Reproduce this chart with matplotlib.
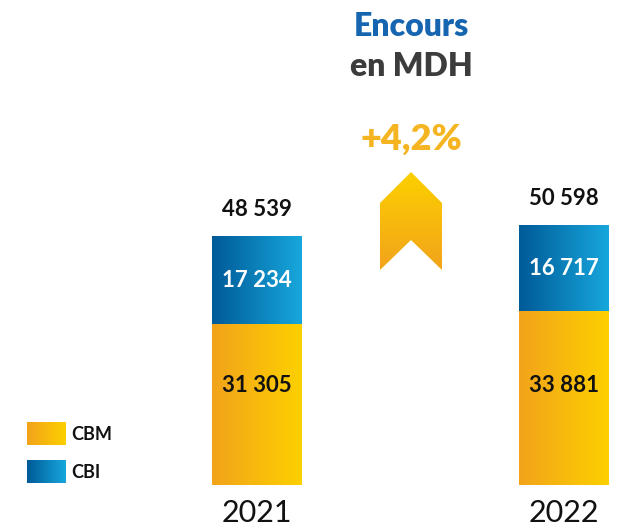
import numpy as np
import matplotlib
matplotlib.use("Agg")
import matplotlib.pyplot as plt
from matplotlib.patches import Polygon, Rectangle
from matplotlib.colors import LinearSegmentedColormap

plt.rcParams['font.family'] = ['Lato', 'DejaVu Sans']

years = ["2021", "2022"]
cbm = [31305, 33881]
cbi = [17234, 16717]
total_labels = ["48 539", "50 598"]
cbm_labels = ["31 305", "33 881"]
cbi_labels = ["17 234", "16 717"]
series_names = ["CBM", "CBI"]
growth_label = "+4,2%"

W, H = 620, 531
fig = plt.figure(figsize=(W / 100, H / 100), dpi=100)
ax = fig.add_axes([0, 0, 1, 1])

px_per_unit_y = 0.005135
bottom_px = 485
ax.set_ylim(-(H - bottom_px) / px_per_unit_y, bottom_px / px_per_unit_y)
x_px = [257, 564]
ux = x_px[1] - x_px[0]
ax.set_xlim(-x_px[0] / ux, (W - x_px[0]) / ux)
width = 90 / ux

gold = LinearSegmentedColormap.from_list("gold", ["#F2A31B", "#FDD000"])
blue = LinearSegmentedColormap.from_list("blue", ["#005A98", "#17A7DC"])
grad = np.linspace(0, 1, 256).reshape(1, -1)

xs = np.arange(len(years))
b1 = ax.bar(xs, cbm, width=width, color="none", edgecolor="none")
b2 = ax.bar(xs, cbi, width=width, bottom=cbm, color="none", edgecolor="none")

def fill_grad(patch, cmap):
    x0, y0 = patch.get_x(), patch.get_y()
    w, h = patch.get_width(), patch.get_height()
    im = ax.imshow(grad, cmap=cmap, aspect="auto", extent=[x0, x0 + w, y0, y0 + h],
                   interpolation="bicubic", zorder=2)
    im.set_clip_path(patch)

for p in b1:
    fill_grad(p, gold)
for p in b2:
    fill_grad(p, blue)

for i in xs:
    tot = cbm[i] + cbi[i]
    ax.text(i, tot + 16 / px_per_unit_y, total_labels[i], ha="center", va="bottom",
            fontsize=16, fontweight="bold", color="#111111", zorder=5)
    ax.text(i, cbm[i] + cbi[i] / 2, cbi_labels[i], ha="center", va="center",
            fontsize=16, fontweight="bold", color="white", zorder=5)
    ax.text(i, cbm[i] * 0.62 if i == 0 else cbm[i] * 0.57, cbm_labels[i], ha="center", va="center",
            fontsize=16, fontweight="bold", color="#111111", zorder=5)

ax.set_axis_off()
for i in xs:
    ax.text(i, -(28) / px_per_unit_y, years[i], ha="center", va="center", fontsize=22,
            color="#111111", zorder=5)

def f(x, y):
    return (x / W, 1 - y / H)

# title
ax.text(*f(411, 27), "Encours", transform=ax.transAxes, ha="center", va="center",
        fontsize=23, fontweight="heavy", color="#1565B0")
ax.text(*f(411, 66), "en MDH", transform=ax.transAxes, ha="center", va="center",
        fontsize=23, fontweight="heavy", color="#3C3C3C")
ax.text(*f(411, 139), growth_label, transform=ax.transAxes, ha="center", va="center",
        fontsize=26, fontweight="heavy", color="#F5B522")

# arrow chevron
pts = [f(380, 203), f(411, 172), f(442, 203), f(442, 270), f(411, 240), f(380, 270)]
poly = Polygon(pts, closed=True, transform=ax.transAxes, facecolor="none", edgecolor="none")
ax.add_patch(poly)
arrow_cmap = LinearSegmentedColormap.from_list("arr", ["#F2A31B", "#FDD000"])
vgrad = np.linspace(0, 1, 256).reshape(-1, 1)
x0, y0 = f(380, 270)
x1, y1 = f(442, 172)
im = ax.imshow(vgrad, cmap=arrow_cmap, aspect="auto", extent=[x0, x1, y0, y1],
               origin="lower", transform=ax.transAxes, zorder=3)
im.set_clip_path(poly)

# legend
cmaps = [gold, blue]
for k, (name, cm) in enumerate(zip(series_names, cmaps)):
    top = 422 + k * 38
    lx0, ly0 = f(27, top + 23)
    lx1, ly1 = f(66, top)
    rect = Rectangle((lx0, ly0), lx1 - lx0, ly1 - ly0, transform=ax.transAxes,
                     facecolor="none", edgecolor="none")
    ax.add_patch(rect)
    im = ax.imshow(grad, cmap=cm, aspect="auto", extent=[lx0, lx1, ly0, ly1],
                   transform=ax.transAxes, zorder=3)
    im.set_clip_path(rect)
    ax.text(*f(71, top + 12), name, transform=ax.transAxes, ha="left", va="center",
            fontsize=13, fontweight="bold", color="#111111")

fig.savefig("out.png", dpi=100)
